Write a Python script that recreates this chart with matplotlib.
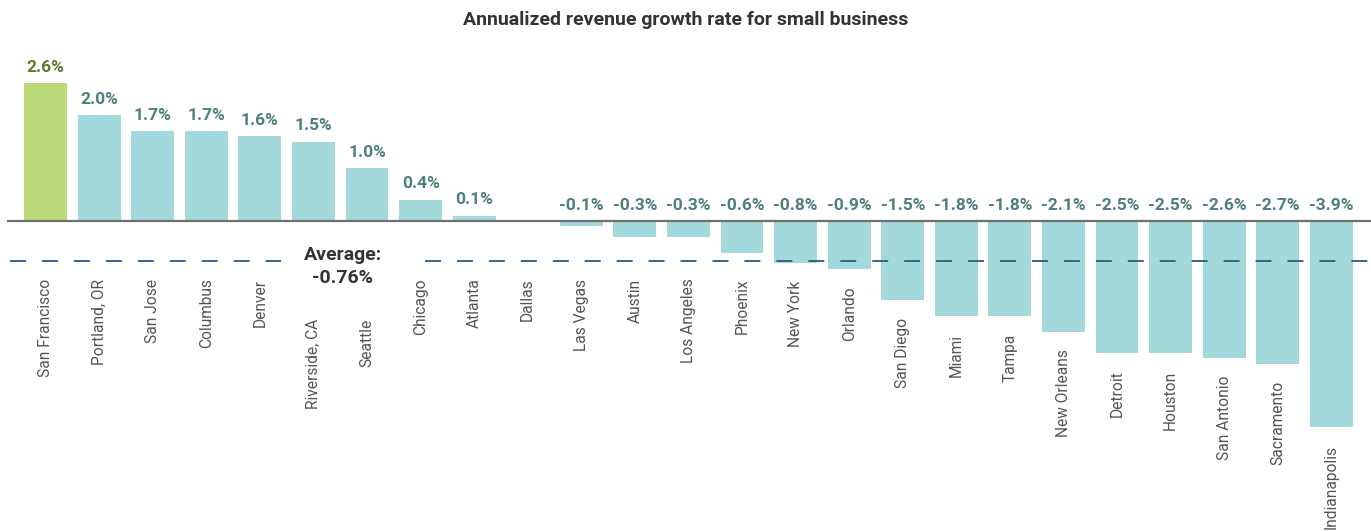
import matplotlib
matplotlib.use("Agg")
import matplotlib.pyplot as plt

plt.rcParams['font.family'] = ['Roboto', 'DejaVu Sans']
plt.rcParams['lines.scale_dashes'] = False

cities = ["San Francisco", "Portland, OR", "San Jose", "Columbus", "Denver",
          "Riverside, CA", "Seattle", "Chicago", "Atlanta", "Dallas",
          "Las Vegas", "Austin", "Los Angeles", "Phoenix", "New York",
          "Orlando", "San Diego", "Miami", "Tampa", "New Orleans",
          "Detroit", "Houston", "San Antonio", "Sacramento", "Indianapolis"]
growth = [2.6, 2.0, 1.7, 1.7, 1.6, 1.5, 1.0, 0.4, 0.1, 0.0,
          -0.1, -0.3, -0.3, -0.6, -0.8, -0.9, -1.5, -1.8, -1.8, -2.1,
          -2.5, -2.5, -2.6, -2.7, -3.9]
average = -0.76
highlight = "San Francisco"

TEAL = "#a3d9da"
GREEN = "#bbd978"
LABEL_TEAL = "#4d7f7c"
LABEL_GREEN = "#5a7a2c"

fig = plt.figure(figsize=(13.71, 5.31), dpi=100)
ax = fig.add_axes([7 / 1371, 0, 1 - 7 / 1371, 481 / 531])
ax.set_xlim(-0.72, 24.74)
ax.set_ylim(-5.86, 3.23)
ax.axis("off")

x = range(len(cities))
colors = [GREEN if c == highlight else TEAL for c in cities]
ax.bar(x, growth, width=0.8, color=colors, zorder=2)
ax.axhline(0, color="#6f6f6f", lw=1.6, zorder=3)

# average line, broken around its label
for x0, x1 in [(-0.66, 4.4), (7.08, 24.74)]:
    ax.plot([x0, x1], [average, average], color="#245b8a", lw=1.3,
            dashes=(11.5, 11.5), zorder=4, solid_capstyle="butt",
            dash_capstyle="butt")
ax.text(5.55, average - 0.1, "Average:\n%.2f%%" % average, ha="center", va="center",
        fontsize=14, fontweight="bold", color="#333333", linespacing=1.3,
        zorder=5)

for i, (c, v) in enumerate(zip(cities, growth)):
    if v != 0:
        ax.annotate("%.1f%%" % v, (i, max(v, 0)), xytext=(0, 6),
                    textcoords="offset points", ha="center", va="bottom",
                    fontsize=12.5, fontweight="bold",
                    color=LABEL_GREEN if c == highlight else LABEL_TEAL)
    anchor = min(v, average) - 0.33
    if c in ("Riverside, CA", "Seattle"):
        anchor -= 0.75
    ax.text(i, anchor, c, rotation=90, ha="center", va="top",
            fontsize=11.2, color="#545454")

fig.text(0.5, 1 - 20 / 531, "Annualized revenue growth rate for small business",
         ha="center", va="center", fontsize=14, fontweight="bold", color="#333333")

fig.savefig("out.png", dpi=100)
